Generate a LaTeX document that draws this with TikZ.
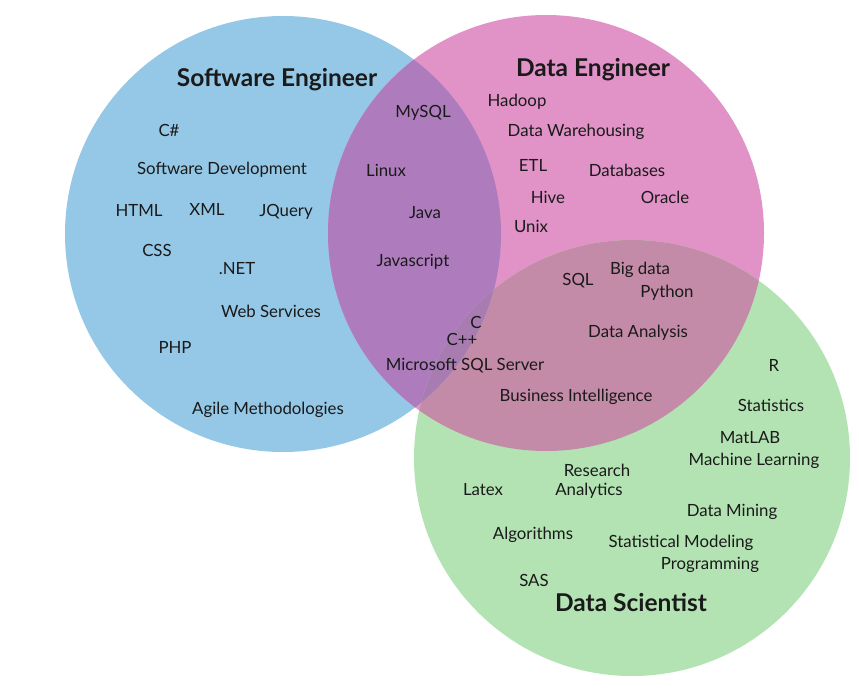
\documentclass[tikz,border=0pt]{standalone}
\usepackage{fontspec}
\setmainfont{Lato}
\definecolor{cblue}{HTML}{94C8E6}
\definecolor{cpink}{HTML}{E193C8}
\definecolor{cgreen}{HTML}{B3E3B3}
\definecolor{cbp}{HTML}{AE7CBD}
\definecolor{cpg}{HTML}{C38BA8}
\definecolor{cbg}{HTML}{A3B9C8}
\definecolor{cbpg}{HTML}{A87CB1}
\definecolor{ink}{HTML}{1A1A1A}
\begin{document}
\begin{tikzpicture}[x=1pt,y=-1pt,
  item/.style={font=\fontsize{16.8}{18}\selectfont, text=ink, inner sep=0pt},
  title/.style={font=\fontsize{24.5}{27}\selectfont\bfseries, text=ink, inner sep=0pt}]
\useasboundingbox (0,0) rectangle (859,688);
\fill[white] (0,0) rectangle (859,688);
% circles
\coordinate (cb) at (283,234);
\coordinate (cp) at (546,233);
\coordinate (cg) at (632,458);
\fill[cblue] (cb) circle (218);
\fill[cpink] (cp) circle (218);
\fill[cgreen] (cg) circle (218);
\begin{scope}
  \clip (cb) circle (218);
  \fill[cbp] (cp) circle (218);
\end{scope}
\begin{scope}
  \clip (cp) circle (218);
  \fill[cpg] (cg) circle (218);
\end{scope}
\begin{scope}
  \clip (cb) circle (218);
  \fill[cbg] (cg) circle (218);
\end{scope}
\begin{scope}
  \clip (cb) circle (218);
  \clip (cp) circle (218);
  \fill[cbpg] (cg) circle (218);
\end{scope}
% titles
\node[title] (tse) at (277,80) {Software Engineer};
\node[title] (tde) at (593,70) {Data Engineer};
\node[title] (tds) at (631,602) {Data Scientist};
% software engineer
\node[item] (csharp) at (169,130) {C\#};
\node[item] (swdev) at (222,170) {Software Development};
\node[item] (html) at (139,210) {HTML};
\node[item] (xml) at (207,209) {XML};
\node[item] (jquery) at (286,212) {JQuery};
\node[item] (css) at (157,250) {CSS};
\node[item] (dotnet) at (237,269) {.NET};
\node[item] (websvc) at (271,311) {Web Services};
\node[item] (php) at (175,347) {PHP};
\node[item] (agile) at (268,410) {Agile Methodologies};
% SE & DE
\node[item] (mysql) at (423,113) {MySQL};
\node[item] (linux) at (386,170) {Linux};
\node[item] (java) at (425,213) {Java};
\node[item] (js) at (413,262) {Javascript};
% data engineer
\node[item] (hadoop) at (517,102) {Hadoop};
\node[item] (dwh) at (576,132) {Data Warehousing};
\node[item] (etl) at (533,165) {ETL};
\node[item] (dbs) at (627,170) {Databases};
\node[item] (hive) at (548,197) {Hive};
\node[item] (oracle) at (665,197) {Oracle};
\node[item] (unix) at (531,226) {Unix};
% DE & DS
\node[item] (sql) at (578,281) {SQL};
\node[item] (bigdata) at (640,270) {Big data};
\node[item] (python) at (667,293) {Python};
\node[item] (danal) at (638,333) {Data Analysis};
\node[item] (bi) at (576,397) {Business Intelligence};
% all three
\node[item] (clang) at (476,322) {C};
\node[item] (cpp) at (462,339) {C++};
\node[item] (mssql) at (465,366) {Microsoft SQL Server};
% data scientist
\node[item] (rlang) at (774,365) {R};
\node[item] (stats) at (771,405) {Statistics};
\node[item] (matlab) at (750,438) {MatLAB};
\node[item] (ml) at (754,461) {Machine Learning};
\node[item] (research) at (597,470) {Research};
\node[item] (latex) at (483,490) {Latex};
\node[item] (analytics) at (589,491) {Analytics};
\node[item] (dmining) at (732,512) {Data Mining};
\node[item] (algo) at (533,535) {Algorithms};
\node[item] (statmod) at (681,543) {Statistical Modeling};
\node[item] (prog) at (710,565) {Programming};
\node[item] (sas) at (534,580) {SAS};
\end{tikzpicture}
\end{document}
